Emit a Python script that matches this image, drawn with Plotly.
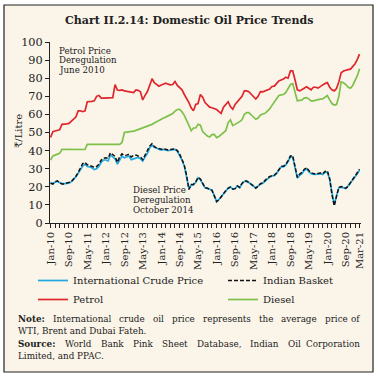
import pandas as pd
import plotly.graph_objects as go

# ---------------- data (Rs per litre, monthly Jan-2010 .. Mar-2021) ----------------
months = pd.date_range("2010-01-01", "2021-03-01", freq="MS")

international_crude = [
    22.4, 21.8, 22.5, 23.1, 22.3, 21.8, 21.8, 21.8, 22.0, 22.7, 24.0, 25.5,
    27.4, 29.2, 31.5, 32.5, 31.2, 31.0, 30.5, 29.5, 30.0, 31.2, 33.5, 34.8,
    34.8, 34.3, 37.5, 36.5, 35.5, 32.5, 35.0, 37.0, 36.0, 36.5, 37.0, 35.0,
    35.5, 36.0, 36.2, 35.5, 34.2, 36.5, 38.4, 41.5, 43.0, 41.8, 41.2, 40.6,
    40.3, 40.7, 40.2, 40.0, 40.2, 40.5, 40.7, 39.6, 37.5, 34.8, 31.5, 26.0,
    19.0, 20.9, 21.0, 22.5, 25.0, 24.0, 21.5, 19.5, 19.2, 18.5, 18.1, 15.3,
    11.8, 13.0, 14.5, 16.0, 17.5, 19.2, 20.0, 18.7, 19.0, 20.5, 19.5, 21.8,
    23.0, 23.0, 22.4, 21.5, 20.5, 19.4, 20.3, 21.5, 22.0, 23.2, 24.6, 25.3,
    26.0, 26.2, 27.3, 29.0, 31.0, 31.0, 32.0, 34.0, 36.6, 36.5, 31.0, 24.8,
    26.4, 27.3, 29.0, 30.0, 28.3, 27.2, 26.8, 26.8, 27.0, 27.3, 26.8, 28.0,
    28.0, 24.0, 16.0, 10.0, 15.0, 19.5, 19.8, 19.2, 19.0, 20.5, 22.0, 23.8,
    25.5, 27.3, 29.2,
]

indian_basket = [
    22.0, 21.5, 22.8, 23.3, 22.2, 21.6, 21.6, 21.9, 22.2, 22.8, 24.3, 25.8,
    28.0, 30.2, 32.8, 33.5, 32.2, 31.8, 31.2, 30.8, 31.2, 32.5, 34.8, 35.8,
    36.0, 35.8, 38.8, 38.0, 36.8, 33.5, 36.5, 38.2, 37.3, 37.5, 38.0, 36.5,
    37.3, 37.5, 37.2, 36.5, 35.0, 37.5, 39.5, 42.5, 43.8, 42.2, 41.5, 41.0,
    40.8, 41.0, 40.5, 40.3, 40.6, 40.9, 41.0, 40.0, 38.0, 35.2, 31.8, 26.3,
    18.5, 21.3, 21.3, 22.8, 25.2, 24.3, 21.8, 19.5, 19.2, 18.8, 18.0, 15.0,
    11.8, 12.8, 14.8, 16.2, 17.8, 19.2, 19.8, 18.7, 19.0, 20.5, 19.7, 21.9,
    23.2, 23.2, 22.4, 21.6, 20.5, 19.2, 20.3, 21.7, 22.2, 23.5, 24.9, 25.6,
    26.3, 26.5, 27.6, 29.4, 31.3, 31.4, 32.3, 34.5, 37.0, 37.2, 31.5, 25.2,
    27.0, 28.0, 29.6, 30.6, 29.0, 27.8, 27.3, 27.1, 27.4, 27.6, 27.2, 28.5,
    28.8, 24.5, 15.8, 9.5, 14.8, 19.7, 20.2, 19.8, 19.2, 20.3, 22.2, 24.0,
    25.8, 27.8, 29.7,
]

petrol = [
    47.3, 50.5, 50.8, 51.0, 51.5, 54.5, 54.5, 54.8, 55.0, 56.0, 57.5, 58.5,
    62.0, 62.0, 61.5, 62.0, 67.0, 67.0, 67.2, 67.5, 70.0, 70.5, 69.0, 69.0,
    69.0, 69.0, 69.0, 69.3, 76.5, 73.5, 73.3, 73.5, 73.0, 72.7, 72.3, 72.2,
    72.0, 73.5, 73.3, 72.5, 68.0, 70.5, 72.5, 76.0, 79.7, 77.5, 76.3, 75.6,
    76.3, 77.0, 77.3, 76.7, 76.3, 76.5, 78.2, 76.0, 74.7, 73.6, 71.0, 69.0,
    66.5, 63.5, 62.0, 65.5, 66.0, 71.0, 69.5, 66.5, 65.0, 64.0, 63.7, 63.3,
    62.7, 61.5, 60.6, 64.0, 65.5, 67.0, 64.3, 62.8, 65.5, 67.0, 68.0, 70.0,
    73.0, 73.0, 72.5, 71.0, 70.0, 68.5, 70.0, 72.6, 72.5, 73.0, 73.3, 74.0,
    75.4, 75.6, 77.0, 78.5, 79.0, 79.5, 80.5, 80.0, 84.0, 84.0, 79.0, 73.6,
    73.0, 74.0, 74.5, 75.3, 74.5, 73.6, 75.0, 75.0, 74.5, 75.5, 76.3, 77.0,
    77.6, 75.0, 73.6, 73.0, 74.3, 78.0, 83.0, 84.0, 84.5, 84.7, 85.0, 86.5,
    88.0, 90.5, 93.3,
]

diesel = [
    34.8, 37.0, 37.5, 38.0, 38.5, 40.7, 40.7, 40.7, 40.7, 40.7, 40.7, 40.7,
    40.7, 40.7, 40.7, 40.6, 43.4, 43.4, 43.4, 43.4, 43.4, 43.4, 43.4, 43.4,
    43.4, 43.4, 43.4, 43.4, 43.4, 43.4, 43.4, 44.5, 50.0, 50.2, 50.3, 50.5,
    50.8, 51.2, 51.6, 52.0, 52.5, 53.0, 53.6, 54.0, 54.5, 55.2, 56.0, 56.5,
    57.3, 58.0, 58.5, 59.2, 59.8, 60.5, 61.8, 62.7, 62.8, 61.5, 59.5, 57.0,
    54.0, 51.0, 52.5, 52.5, 54.5, 54.0, 50.5, 49.0, 48.0, 47.5, 48.8, 49.0,
    47.2, 47.8, 49.0, 50.0, 51.0, 55.5, 57.0, 53.8, 54.5, 55.0, 56.0, 57.0,
    60.0, 61.0, 61.0, 59.8, 58.5, 57.3, 58.0, 59.7, 60.2, 60.6, 61.8, 63.0,
    65.0, 67.0, 69.0, 70.5, 70.8, 71.0, 72.0, 74.0, 76.5, 77.0, 72.6, 67.5,
    67.7, 68.0, 69.0, 69.3, 68.6, 67.5, 67.5, 68.0, 68.2, 68.4, 68.6, 69.5,
    70.4, 68.0, 66.0, 65.2, 65.5, 70.0, 78.0, 77.5, 76.5, 75.0, 74.5, 76.0,
    78.5, 81.5, 85.2,
]

series_names = ["International Crude Price", "Indian Basket", "Petrol", "Diesel"]
series_values = [international_crude, indian_basket, petrol, diesel]
series_colors = ["#22A9E1", "#111111", "#DF262C", "#7DC14A"]
series_dash = ["solid", "4px,2px", "solid", "solid"]
series_legend = ["legend", "legend2", "legend", "legend2"]

tick_dates = list(months[::8]) + [months[-1]]
tick_labels = [d.strftime("%b-%y") for d in tick_dates]

title_text = "Chart II.2.14: Domestic Oil Price Trends"
y_title = "₹/Litre"
note_lines = [
    ("Note:", "International crude oil price represents the average price of", True),
    ("", "WTI, Brent and Dubai Fateh.", False),
    ("Source:", "World Bank Pink Sheet Database, Indian Oil Corporation", True),
    ("", "Limited, and PPAC.", False),
]

# ---------------- layout helpers ----------------
W, H = 378, 377
L, R, T, B = 50, 361, 42, 223
FONT = "DejaVu Serif"
BG = "#FBF5E9"
INK = "#222222"


def px_x(px):
    return (px - L) / (R - L)


def px_y(py):
    return (B - py) / (B - T)


# approximate DejaVu Serif advance widths (em) used only to justify note lines
_W = dict(zip("abcdefghijklmnopqrstuvwxyz",
              [.596, .640, .560, .640, .592, .370, .640, .644, .320, .310, .606, .320, .948,
               .644, .602, .640, .640, .478, .513, .402, .644, .565, .856, .564, .565, .527]))
_W.update(dict(zip("ABCDEFGHIJKLMNOPQRSTUVWXYZ",
                   [.722, .735, .765, .802, .730, .694, .799, .872, .395, .401, .747, .664, 1.024,
                    .875, .820, .673, .820, .753, .685, .667, .843, .722, 1.028, .712, .660, .695])))
_W.update({".": .318, ",": .318, ":": .337, "-": .338})


def text_w(s, size, bold=False):
    return sum(_W.get(c, .6) for c in s) * size * (1.1 if bold else 1.0)


fig = go.Figure()
for name, vals, col, dash, lg in zip(series_names, series_values, series_colors,
                                     series_dash, series_legend):
    fig.add_trace(go.Scatter(
        x=months, y=vals, mode="lines", name=name, legend=lg,
        line=dict(color=col, width=1.7 if dash == "solid" else 1.5, dash=dash),
    ))

annotations = [
    dict(text="<b>" + title_text + "</b>", x=px_x(189), y=px_y(21), xanchor="center",
         yanchor="middle", font=dict(size=11, family=FONT, color=INK)),
    dict(text=y_title, x=px_x(18), y=px_y(131), textangle=-90, xanchor="center",
         yanchor="middle", font=dict(size=10, family=FONT, color=INK)),
]
for i, t in enumerate(["Petrol Price", "Deregulation", "June 2010"]):
    annotations.append(dict(text=t, x=px_x(57), y=px_y(50.5 + 9.7 * i), xanchor="left",
                            yanchor="middle", font=dict(size=8.7, family=FONT, color=INK)))
for i, t in enumerate(["Diesel Price", "Deregulation", "October 2014"]):
    annotations.append(dict(text=t, x=px_x(131), y=px_y(190 + 10 * i), xanchor="left",
                            yanchor="middle", font=dict(size=8.7, family=FONT, color=INK)))

NOTE_SIZE = 8.8
NOTE_L, NOTE_R = 16, 362
note_y = [319, 331, 344, 356]
for (lead, body, justify), yy in zip(note_lines, note_y):
    words = ([("<b>" + lead + "</b>", lead, True)] if lead else []) + \
            [(w, w, False) for w in body.split(" ")]
    if not justify:
        txt = " ".join(w[0] for w in words)
        annotations.append(dict(text=txt, x=px_x(NOTE_L), y=px_y(yy), xanchor="left",
                                yanchor="middle", font=dict(size=NOTE_SIZE, family=FONT, color=INK)))
        continue
    widths = [text_w(p, NOTE_SIZE, b) for _, p, b in words]
    gap = (NOTE_R - NOTE_L - sum(widths)) / (len(words) - 1)
    pos = NOTE_L
    for k, ((txt, _, _), w) in enumerate(zip(words, widths)):
        last = k == len(words) - 1
        annotations.append(dict(text=txt, x=px_x(NOTE_R if last else pos), y=px_y(yy),
                                xanchor="right" if last else "left", yanchor="middle",
                                font=dict(size=NOTE_SIZE, family=FONT, color=INK)))
        pos += w + gap

for a in annotations:
    a.update(xref="paper", yref="paper", showarrow=False)

legend_common = dict(orientation="v", xanchor="left", yanchor="top", itemwidth=30,
                     font=dict(size=10, family=FONT, color=INK), bgcolor="rgba(0,0,0,0)",
                     tracegroupgap=0, traceorder="normal")

fig.update_layout(
    width=W, height=H,
    margin=dict(l=L, r=W - R, t=T, b=H - B, pad=0),
    paper_bgcolor="white", plot_bgcolor=BG,
    font=dict(family=FONT, size=10, color=INK),
    showlegend=True,
    legend=dict(x=px_x(33), y=px_y(266), **legend_common),
    legend2=dict(x=px_x(223), y=px_y(266), **legend_common),
    annotations=annotations,
    shapes=[dict(type="rect", xref="paper", yref="paper", x0=px_x(4), x1=px_x(373),
                 y0=px_y(372), y1=px_y(5), line=dict(color=INK, width=1.2),
                 fillcolor=BG, layer="below")],
    xaxis=dict(type="date", range=["2009-12-25", "2021-03-20"], showgrid=False,
               showline=True, linecolor=INK, linewidth=1, zeroline=False,
               tickmode="array", tickvals=tick_dates, ticktext=tick_labels, tickangle=-90,
               ticks="outside", ticklen=4, tickcolor=INK,
               minor=dict(dtick="M2", tick0="2010-01-01", ticks="outside", ticklen=4,
                          tickcolor=INK, showgrid=False),
               tickfont=dict(size=10, family=FONT, color=INK)),
    yaxis=dict(range=[0, 100], dtick=10, showgrid=False, showline=True, linecolor=INK,
               linewidth=1, zeroline=False, ticks="outside", ticklen=4, tickcolor=INK,
               tickfont=dict(size=11.3, family=FONT, color=INK)),
)

fig.write_html("out.html", config={"displayModeBar": False},
               post_script="document.body.style.margin='0';document.body.style.overflow='hidden';")
